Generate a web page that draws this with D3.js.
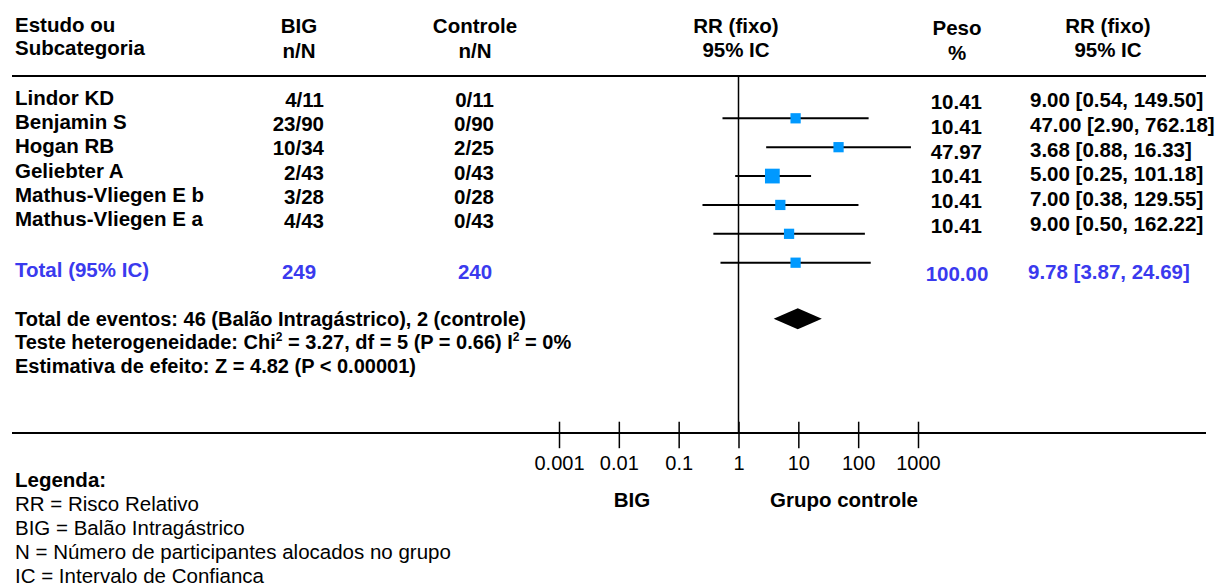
<!DOCTYPE html>
<html>
<head>
<meta charset="utf-8">
<script src="https://cdn.jsdelivr.net/npm/d3@7"></script>
<style>
  body { margin: 0; background: #fff; }
  svg { font-family: "Liberation Sans", Arial, sans-serif; }
  .b { font-weight: bold; }
</style>
</head>
<body>
<svg id="chart" width="1222" height="587"></svg>
<script>
// study rows
var studies = ["Lindor KD", "Benjamin S", "Hogan RB", "Geliebter A", "Mathus-Vliegen E b", "Mathus-Vliegen E a"];
var bigN = ["4/11", "23/90", "10/34", "2/43", "3/28", "4/43"];
var ctrlN = ["0/11", "0/90", "2/25", "0/43", "0/28", "0/43"];
var weights = [10.41, 10.41, 47.97, 10.41, 10.41, 10.41];
var rr = [9.00, 47.00, 3.68, 5.00, 7.00, 9.00];
var rrLow = [0.54, 2.90, 0.88, 0.25, 0.38, 0.50];
var rrHigh = [149.50, 762.18, 16.33, 101.18, 129.55, 162.22];

// pooled
var totalN = [249, 240];
var totalWeight = 100.00;
var totalRR = [9.78, 3.87, 24.69];

var axisTicks = [0.001, 0.01, 0.1, 1, 10, 100, 1000];

var footLines = [
  ["Total de eventos: 46 (Balão Intragástrico), 2 (controle)"],
  ["Teste heterogeneidade: Chi", "2", " = 3.27, df = 5 (P = 0.66) I", "2", " = 0%"],
  ["Estimativa de efeito: Z = 4.82 (P < 0.00001)"]
];
var legendLines = ["RR = Risco Relativo", "BIG = Balão Intragástrico", "N = Número de participantes alocados no grupo", "IC = Intervalo de Confianca"];

var blue = "#3a3aee";
var fs = 20.5;

var svg = d3.select("#chart");
var f2 = d3.format(".2f");

var x = d3.scaleLog().domain([0.001, 1000]).range([559, 918]);
var yText = d3.scalePoint().domain(studies).range([105, 226]);
var yRight = d3.scalePoint().domain(studies).range([109, 233]);
var yMark = d3.scalePoint().domain(studies).range([118.3, 262.7]);
var size = d3.scaleLinear().domain([0, 50]).range([9, 15]);

// header
function head(lines, xx, anchor, y0, y1) {
  svg.append("text").attr("class", "b").attr("x", xx).attr("y", y0)
    .attr("text-anchor", anchor).attr("font-size", fs).text(lines[0]);
  svg.append("text").attr("class", "b").attr("x", xx).attr("y", y1)
    .attr("text-anchor", anchor).attr("font-size", fs).text(lines[1]);
}
head(["Estudo ou", "Subcategoria"], 15, "start", 32, 54.5);
head(["BIG", "n/N"], 299, "middle", 33, 58);
head(["Controle", "n/N"], 475, "middle", 33, 58);
head(["RR (fixo)", "95% IC"], 736, "middle", 33, 57);
head(["Peso", "%"], 957, "middle", 35, 60);
head(["RR (fixo)", "95% IC"], 1108, "middle", 33, 57);

svg.append("line").attr("x1", 12).attr("x2", 1206).attr("y1", 76).attr("y2", 76)
  .attr("stroke", "#000").attr("stroke-width", 2);

// table rows
var rows = svg.append("g").attr("class", "b").attr("font-size", fs);
studies.forEach(function (s, i) {
  var y = yText(s);
  rows.append("text").attr("x", 15).attr("y", y).text(s);
  rows.append("text").attr("x", 324).attr("y", y + 2).attr("text-anchor", "end").text(bigN[i]);
  rows.append("text").attr("x", 494).attr("y", y + 2).attr("text-anchor", "end").text(ctrlN[i]);
  rows.append("text").attr("x", 982).attr("y", yRight(s)).attr("text-anchor", "end").text(f2(weights[i]));
  rows.append("text").attr("x", 1030).attr("y", yRight(s) - 2)
    .text(f2(rr[i]) + " [" + f2(rrLow[i]) + ", " + f2(rrHigh[i]) + "]");
});

var tot = svg.append("g").attr("class", "b").attr("font-size", fs).attr("fill", blue);
tot.append("text").attr("x", 15).attr("y", 277).text("Total (95% IC)");
tot.append("text").attr("x", 299).attr("y", 279).attr("text-anchor", "middle").text(totalN[0]);
tot.append("text").attr("x", 475).attr("y", 279).attr("text-anchor", "middle").text(totalN[1]);
tot.append("text").attr("x", 957).attr("y", 281).attr("text-anchor", "middle").text(f2(totalWeight));
tot.append("text").attr("x", 1028).attr("y", 279)
  .text(f2(totalRR[0]) + " [" + f2(totalRR[1]) + ", " + f2(totalRR[2]) + "]");

// no-effect line
svg.append("line").attr("x1", x(1)).attr("x2", x(1)).attr("y1", 76).attr("y2", 433)
  .attr("stroke", "#000").attr("stroke-width", 1.5);

// CI lines and squares
var marks = svg.append("g");
studies.forEach(function (s, i) {
  var y = yMark(s);
  marks.append("line").attr("x1", x(rrLow[i])).attr("x2", x(rrHigh[i]))
    .attr("y1", y).attr("y2", y).attr("stroke", "#000").attr("stroke-width", 2);
  var w = size(weights[i]);
  marks.append("rect").attr("x", x(rr[i]) - w / 2).attr("y", y - w / 2)
    .attr("width", w).attr("height", w).attr("fill", "#0099ff");
});

// pooled diamond
var dy = 318.8, dh = 10.5;
svg.append("path")
  .attr("d", "M" + x(totalRR[1]) + "," + dy + "L" + x(totalRR[0]) + "," + (dy - dh) +
    "L" + x(totalRR[2]) + "," + dy + "L" + x(totalRR[0]) + "," + (dy + dh) + "Z")
  .attr("fill", "#000");

// footer stats
var foot = svg.append("g").attr("class", "b").attr("font-size", 20);
[326, 349.3, 372.7].forEach(function (y, i) {
  var t = foot.append("text").attr("x", 15).attr("y", y);
  footLines[i].forEach(function (part, k) {
    var sup = (k % 2 === 1);
    t.append("tspan").attr("font-size", sup ? 12 : 20)
      .attr("dy", sup ? -8 : (k > 0 ? 8 : 0)).text(part);
  });
});

// axis
svg.append("line").attr("x1", 12).attr("x2", 1206).attr("y1", 433).attr("y2", 433)
  .attr("stroke", "#000").attr("stroke-width", 2);

var ax = svg.append("g").attr("transform", "translate(0,421.7)")
  .call(d3.axisBottom(x).tickValues(axisTicks).tickSize(26.5).tickFormat(d3.format("~g")));
ax.select(".domain").remove();
ax.selectAll(".tick line").attr("stroke-width", 1.5);
ax.selectAll("text").attr("y", 48.5).attr("dy", 0)
  .attr("font-size", 20).attr("font-family", "Liberation Sans, Arial, sans-serif").attr("fill", "#000");

svg.append("text").attr("class", "b").attr("font-size", fs).attr("x", 632).attr("y", 507)
  .attr("text-anchor", "middle").text("BIG");
svg.append("text").attr("class", "b").attr("font-size", fs).attr("x", 844).attr("y", 507)
  .attr("text-anchor", "middle").text("Grupo controle");

// legend
svg.append("text").attr("class", "b").attr("font-size", fs).attr("x", 15).attr("y", 487).text("Legenda:");
legendLines.forEach(function (l, i) {
  svg.append("text").attr("font-size", 20.5).attr("x", 15).attr("y", 510.5 + i * 24).text(l);
});
</script>
</body>
</html>
